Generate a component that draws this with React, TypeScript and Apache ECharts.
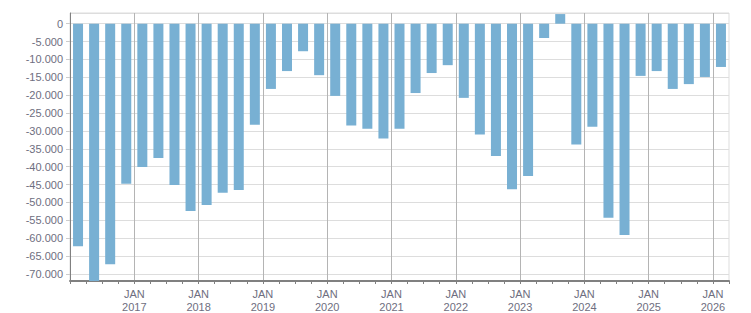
import React, { useEffect, useRef } from "react";
import * as echarts from "echarts";

// Quarterly balance, Q1 2016 – Q1 2026
const years: number[] = [2016, 2017, 2018, 2019, 2020, 2021, 2022, 2023, 2024, 2025, 2026];
const quarters: string[] = years.flatMap((y) =>
  y === 2026 ? [`${y} Q1`] : [`${y} Q1`, `${y} Q2`, `${y} Q3`, `${y} Q4`]
);

const values: number[] = [
  -62300, -72000, -67300, -44800,
  -40100, -37600, -45100, -52400,
  -50750, -47300, -46500, -28250,
  -18250, -13250, -7700, -14400,
  -20200, -28500, -29400, -32100,
  -29400, -19400, -13800, -11600,
  -20750, -31000, -37050, -46300,
  -42600, -4000, 2700, -33800,
  -28800, -54300, -59100, -14600,
  -13250, -18250, -16900, -14900,
  -12100,
];

const yMin = -72000;
const yMax = 3000;
const yStep = 5000;

const fmt = (v: number) => {
  const s = Math.abs(v).toString().replace(/\B(?=(\d{3})+(?!\d))/g, ".");
  return v < 0 ? `-${s}` : s;
};

export default function App() {
  const ref = useRef<HTMLDivElement>(null);

  useEffect(() => {
    if (!ref.current) return;
    const chart = echarts.init(ref.current, null, { renderer: "svg" });
    const font = "'Liberation Sans', Arial, sans-serif";
    chart.setOption({
      animation: false,
      grid: {
        left: 70,
        right: 22,
        top: 13,
        bottom: 32,
        show: true,
        borderColor: "#dddddd",
        borderWidth: 1,
      },
      xAxis: {
        type: "category",
        data: quarters,
        boundaryGap: true,
        axisLine: { show: true, onZero: false, lineStyle: { color: "#808080", width: 2 } },
        axisTick: {
          show: true,
          interval: 0,
          length: 3,
          lineStyle: { color: "#808080" },
        },
        axisLabel: {
          show: true,
          interval: (i: number) => i % 4 === 0 && i > 0,
          formatter: (v: string) => `JAN\n${v.slice(0, 4)}`,
          color: "#6e6e80",
          fontFamily: font,
          fontSize: 11,
          lineHeight: 13,
          margin: 6,
          padding: [0, 16, 0, 0],
        },
        splitLine: {
          show: true,
          interval: (i: number) => i % 4 === 0,
          showMaxLine: false,
          lineStyle: { color: "#b4b4b4", width: 1 },
        },
      },
      yAxis: {
        type: "value",
        min: yMin,
        max: yMax,
        minInterval: yStep,
        maxInterval: yStep,
        axisLine: { show: true, lineStyle: { color: "#808080", width: 1 } },
        axisTick: { show: true, length: 4, lineStyle: { color: "#cccccc" } },
        axisLabel: {
          color: "#6e6e80",
          fontFamily: font,
          fontSize: 11,
          margin: 7,
          showMinLabel: false,
          showMaxLabel: false,
          formatter: (v: number) => (v % yStep === 0 ? fmt(v) : ""),
        },
        splitLine: { show: true, lineStyle: { color: "#dddddd", width: 1 } },
      },
      series: [
        {
          type: "bar",
          data: values,
          barWidth: 10,
          itemStyle: { color: "#78b0d3" },
        },
      ],
    });
    return () => chart.dispose();
  }, []);

  return (
    <div
      ref={ref}
      style={{ position: "fixed", left: 0, top: 0, width: 751, height: 313, background: "#fff" }}
    />
  );
}
